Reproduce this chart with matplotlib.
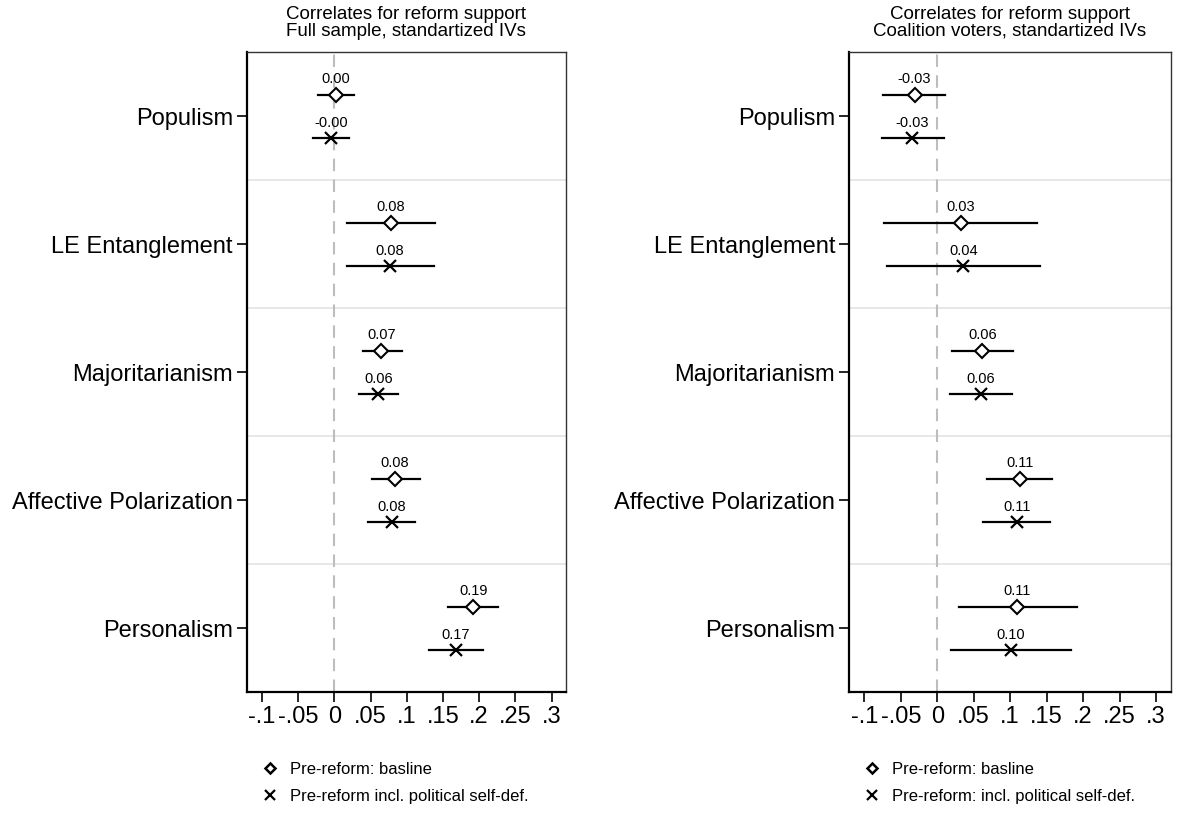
import matplotlib.pyplot as plt
from matplotlib.lines import Line2D

plt.rcParams['font.family'] = ['Liberation Sans', 'DejaVu Sans']

# predictors, top to bottom
predictors = ['Populism', 'LE Entanglement', 'Majoritarianism',
              'Affective Polarization', 'Personalism']

# full sample: baseline model (diamond)
full_base = [0.002, 0.078, 0.065, 0.084, 0.192]
full_base_lo = [-0.023, 0.018, 0.039, 0.052, 0.157]
full_base_hi = [0.027, 0.139, 0.093, 0.118, 0.226]
# full sample: incl. political self-definition (cross)
full_self = [-0.004, 0.077, 0.061, 0.079, 0.168]
full_self_lo = [-0.029, 0.018, 0.034, 0.046, 0.131]
full_self_hi = [0.020, 0.138, 0.088, 0.112, 0.205]

# coalition voters: baseline model
coal_base = [-0.031, 0.032, 0.062, 0.113, 0.110]
coal_base_lo = [-0.074, -0.073, 0.020, 0.068, 0.030]
coal_base_hi = [0.011, 0.137, 0.104, 0.158, 0.191]
# coalition voters: incl. political self-definition
coal_self = [-0.034, 0.036, 0.060, 0.109, 0.101]
coal_self_lo = [-0.076, -0.069, 0.018, 0.063, 0.019]
coal_self_hi = [0.009, 0.141, 0.103, 0.155, 0.184]

xticks = [-0.1, -0.05, 0, 0.05, 0.1, 0.15, 0.2, 0.25, 0.3]
xticklabels = ['-.1', '-.05', '0', '.05', '.1', '.15', '.2', '.25', '.3']

titles = ['Correlates for reform support\nFull sample, standartized IVs',
          'Correlates for reform support\nCoalition voters, standartized IVs']
legend_labels = [['Pre-reform: basline', 'Pre-reform incl. political self-def.'],
                 ['Pre-reform: basline', 'Pre-reform: incl. political self-def.']]

panels = [
    (full_base, full_base_lo, full_base_hi, full_self, full_self_lo, full_self_hi),
    (coal_base, coal_base_lo, coal_base_hi, coal_self, coal_self_lo, coal_self_hi),
]

fig = plt.figure(figsize=(11.77, 8.13), dpi=100)
axes = [fig.add_axes([0.2096, 0.1485, 0.2713, 0.7872]),
        fig.add_axes([0.7213, 0.1485, 0.2733, 0.7872])]

off = 0.169
for ax, data, title, labels in zip(axes, panels, titles, legend_labels):
    b, blo, bhi, s, slo, shi = data
    ypos = list(range(len(predictors)))

    ax.axvline(0, color='#bdbdbd', lw=1.5, ls=(0, (6, 4)), zorder=1)
    for k in range(len(predictors) - 1):
        ax.axhline(k + 0.5, color='#e3e3e3', lw=1.2, zorder=0)

    for i in ypos:
        ax.plot([blo[i], bhi[i]], [i - off, i - off], color='black', lw=1.6, zorder=2)
        ax.plot([slo[i], shi[i]], [i + off, i + off], color='black', lw=1.6, zorder=2)
        ax.annotate(f'{b[i]:.2f}', (b[i], i - off), xytext=(0, 6), textcoords='offset points',
                    ha='center', va='bottom', fontsize=10.5)
        ax.annotate(f'{s[i]:.2f}', (s[i], i + off), xytext=(0, 6),
                    textcoords='offset points', ha='center', va='bottom', fontsize=10.5)
    ax.plot(b, [y - off for y in ypos], ls='none', marker='D', ms=7, mfc='white',
            mec='black', mew=1.5, zorder=3)
    ax.plot(s, [y + off for y in ypos], ls='none', marker='x', ms=8.5, mec='black',
            mew=1.6, zorder=3)

    ax.set_xlim(-0.121, 0.320)
    ax.set_ylim(len(predictors) - 0.5, -0.5)
    ax.set_xticks(xticks)
    ax.set_xticklabels(xticklabels)
    ax.set_yticks(ypos)
    ax.set_yticklabels(predictors)
    ax.tick_params(axis='both', labelsize=17, length=7, width=1.2, direction='out')
    ax.tick_params(axis='x', pad=3)
    ax.tick_params(axis='y', pad=3)
    for side in ['left', 'bottom']:
        ax.spines[side].set_linewidth(1.6)
    for side in ['top', 'right']:
        ax.spines[side].set_linewidth(1.0)
        ax.spines[side].set_color('#333333')
    ax.set_title(title, fontsize=13.5, linespacing=0.95, pad=12)

    handles = [Line2D([], [], ls='none', marker='D', ms=5.5, mfc='white', mec='black', mew=1.8),
               Line2D([], [], ls='none', marker='x', ms=6.5, mec='black', mew=1.6)]
    ax.legend(handles, labels, loc='upper left', bbox_to_anchor=(0.0, -0.085),
              frameon=False, fontsize=12, handlelength=1.0, handletextpad=0.7,
              labelspacing=0.75)

fig.savefig('out.png', dpi=100)
